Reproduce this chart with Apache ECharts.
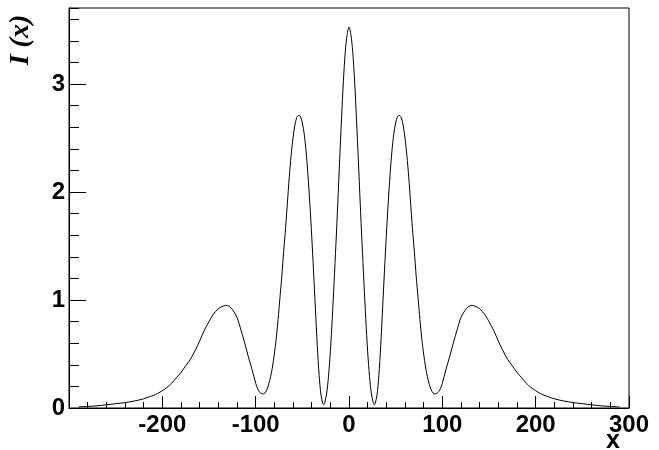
<!DOCTYPE html>
<html>
<head>
<meta charset="utf-8">
<script src="https://cdn.jsdelivr.net/npm/echarts@6/dist/echarts.min.js"></script>
<style>
html,body{margin:0;padding:0;background:#fff;}
#chart{width:659px;height:450px;}
</style>
</head>
<body>
<div id="chart"></div>
<script>
// x positions
var xValues = [
  -290,-280,-270,-260,-250,-240,-230,-220,-215,-210,-205,-200,-195,-190,-185,-180,-175,-170,-165,-160,-155,-150,-146,-140,-136,-132,-128,-124,-120,-116,-112,-108,-104,-100,-98,-96,-94,-92,-90,-88,-86,-84,-82,-80,-78,-76,-74,-72,-70,-68,-66,-64,-62,-60,-58,-56,-54,-52,-50,-48,-46,-44,-42,-40,-38,-36,-34,-32,-30,-28,-27,-26,-24,-22,-20,-18,-16,-14,-12,-10,-8,-6,-4,-2,
  0,
  2,4,6,8,10,12,14,16,18,20,22,24,26,27,28,30,32,34,36,38,40,42,44,46,48,50,52,54,56,58,60,62,64,66,68,70,72,74,76,78,80,82,84,86,88,90,92,94,96,98,100,104,108,112,116,120,124,128,132,136,140,146,150,155,160,165,170,175,180,185,190,195,200,205,210,215,220,230,240,250,260,270,280,290
];
// I(x) values
var intensity = [
  0.01,0.015,0.02,0.03,0.04,0.05,0.065,0.085,0.10,0.115,0.135,0.16,0.19,0.23,0.28,0.33,0.39,0.45,0.53,0.62,0.72,0.80,0.86,0.92,0.94,0.95,0.94,0.90,0.84,0.73,0.61,0.48,0.36,0.23,0.18,0.15,0.135,0.13,0.14,0.17,0.22,0.29,0.38,0.50,0.64,0.82,1.02,1.22,1.45,1.66,1.90,2.14,2.34,2.50,2.62,2.69,2.71,2.70,2.64,2.54,2.38,2.16,1.90,1.60,1.27,0.92,0.58,0.30,0.12,0.04,0.03,0.05,0.13,0.29,0.52,0.82,1.16,1.52,1.90,2.30,2.68,3.03,3.30,3.46,
  3.53,
  3.46,3.30,3.03,2.68,2.30,1.90,1.52,1.16,0.82,0.52,0.29,0.13,0.05,0.03,0.04,0.12,0.30,0.58,0.92,1.27,1.60,1.90,2.16,2.38,2.54,2.64,2.70,2.71,2.69,2.62,2.50,2.34,2.14,1.90,1.66,1.45,1.22,1.02,0.82,0.64,0.50,0.38,0.29,0.22,0.17,0.14,0.13,0.135,0.15,0.18,0.23,0.36,0.48,0.61,0.73,0.84,0.90,0.94,0.95,0.94,0.92,0.86,0.80,0.72,0.62,0.53,0.45,0.39,0.33,0.28,0.23,0.19,0.16,0.135,0.115,0.10,0.085,0.065,0.05,0.04,0.03,0.02,0.015,0.01
];
var xTickLabels = ['-300','-200','-100','0','100','200','300'];
var yTickLabels = ['0','1','2','3'];
var xTitle = 'x';
var yTitle = 'I (x)';

var data = xValues.map(function (x, i) { return [x, intensity[i]]; });

var chart = echarts.init(document.getElementById('chart'), null, {renderer: 'canvas'});
var labelFont = {fontFamily: 'Liberation Sans, Arial, sans-serif', fontWeight: 'bold', fontSize: 24, color: '#000'};
chart.setOption({
  animation: false,
  backgroundColor: '#fff',
  grid: {left: 69, right: 30, top: 8, bottom: 42, show: true, borderColor: '#000', borderWidth: 1, backgroundColor: '#fff'},
  xAxis: {
    type: 'value', min: -300, max: 300, interval: 100,
    axisLine: {show: true, onZero: false, lineStyle: {color: '#000', width: 1}},
    axisTick: {show: true, inside: true, length: 12, lineStyle: {color: '#000'}},
    minorTick: {show: true, splitNumber: 5, length: 6, lineStyle: {color: '#000'}},
    splitLine: {show: false},
    axisLabel: Object.assign({margin: 5, showMinLabel: false, formatter: function (v) { return xTickLabels[Math.round((v + 300) / 100)]; }}, labelFont)
  },
  yAxis: [{
    type: 'value', min: 0, max: 3.705, interval: 1,
    axisLine: {show: true, onZero: false, lineStyle: {color: '#000', width: 1}},
    axisTick: {show: true, inside: true, length: 17, lineStyle: {color: '#000'}},
    splitLine: {show: false},
    axisLabel: Object.assign({margin: 4, showMaxLabel: false, formatter: function (v) { var k = Math.round(v); return (Math.abs(v - k) < 1e-6 && yTickLabels[k] !== undefined) ? yTickLabels[k] : ''; }}, labelFont)
  }, {
    type: 'value', min: 0, max: 3.705, interval: 0.2, position: 'left',
    axisLine: {show: false, onZero: false},
    axisTick: {show: true, inside: true, length: 10, lineStyle: {color: '#000'}},
    splitLine: {show: false},
    axisLabel: {show: false}
  }],
  series: [{
    type: 'line', data: data, yAxisIndex: 0, smooth: 0.3, showSymbol: false, symbol: 'none',
    lineStyle: {color: '#000', width: 1}, clip: true
  }],
  graphic: [{
    type: 'text', x: 613, y: 441,
    style: {text: xTitle, font: 'bold 25px "Liberation Sans", Arial, sans-serif', fill: '#000', align: 'center', verticalAlign: 'middle'}
  }, {
    type: 'text', x: 21, y: 40, rotation: Math.PI / 2,
    style: {text: yTitle, font: 'italic bold 28px "Liberation Serif", "Times New Roman", serif', fill: '#000', align: 'center', verticalAlign: 'middle'}
  }]
});
</script>
</body>
</html>
